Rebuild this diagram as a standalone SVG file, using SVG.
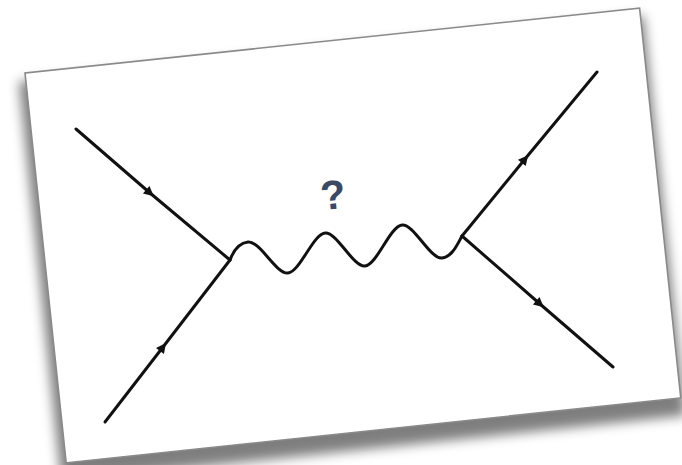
<svg xmlns="http://www.w3.org/2000/svg" width="682" height="465" viewBox="0 0 682 465">
<style>
.line{fill:none;stroke:#111;stroke-width:3;stroke-linecap:round;stroke-linejoin:round}
.q{font-family:"Liberation Sans",Arial,sans-serif;font-size:41px;font-weight:bold;fill:#3b4a62}
</style>
<defs>
<filter id="blur" x="-20%" y="-20%" width="140%" height="140%"><feGaussianBlur stdDeviation="6"/></filter>
<marker id="arr" viewBox="0 0 10 10" refX="5" refY="5" markerWidth="13" markerHeight="10" markerUnits="userSpaceOnUse" orient="auto">
<path d="M0,0 L10,5 L0,10 Z" fill="#111"/>
</marker>
</defs>
<rect width="682" height="465" fill="#fff"/>
<g id="card" transform="translate(25,73) rotate(-6.03)">
<rect x="-7" y="8" width="628" height="402" fill="#000" opacity="0.5" filter="url(#blur)"/>
<rect x="0" y="0" width="618" height="392" fill="#fff" stroke="#8a8a8a" stroke-width="1.6"/>
</g>
<g id="connectors">
<path id="fermion-in-top" class="line" d="M76,129 L150,193 L230,260" marker-mid="url(#arr)"/>
<path id="fermion-in-bottom" class="line" d="M105,422 L163,347 L230,260" marker-mid="url(#arr)"/>
<path id="fermion-out-top" class="line" d="M462,236 L525,159 L597,72" marker-mid="url(#arr)"/>
<path id="fermion-out-bottom" class="line" d="M462,236 L540,304 L613,367" marker-mid="url(#arr)"/>
<path id="boson" class="line" d="M230,260 C233,252 238,243 248,242 C260,240.7 276,274.3 288,273 C300,271.7 313,234.3 325,233 C337,231.7 353,267.3 365,266 C377,264.7 390,226.3 402,225 C414,223.7 430,259.3 442,258 C452,257 457,245 462,236"/>
</g>
<g id="label">
<text class="q" x="333" y="209" text-anchor="middle" transform="rotate(-6 333 195)">?</text>
</g>
</svg>
